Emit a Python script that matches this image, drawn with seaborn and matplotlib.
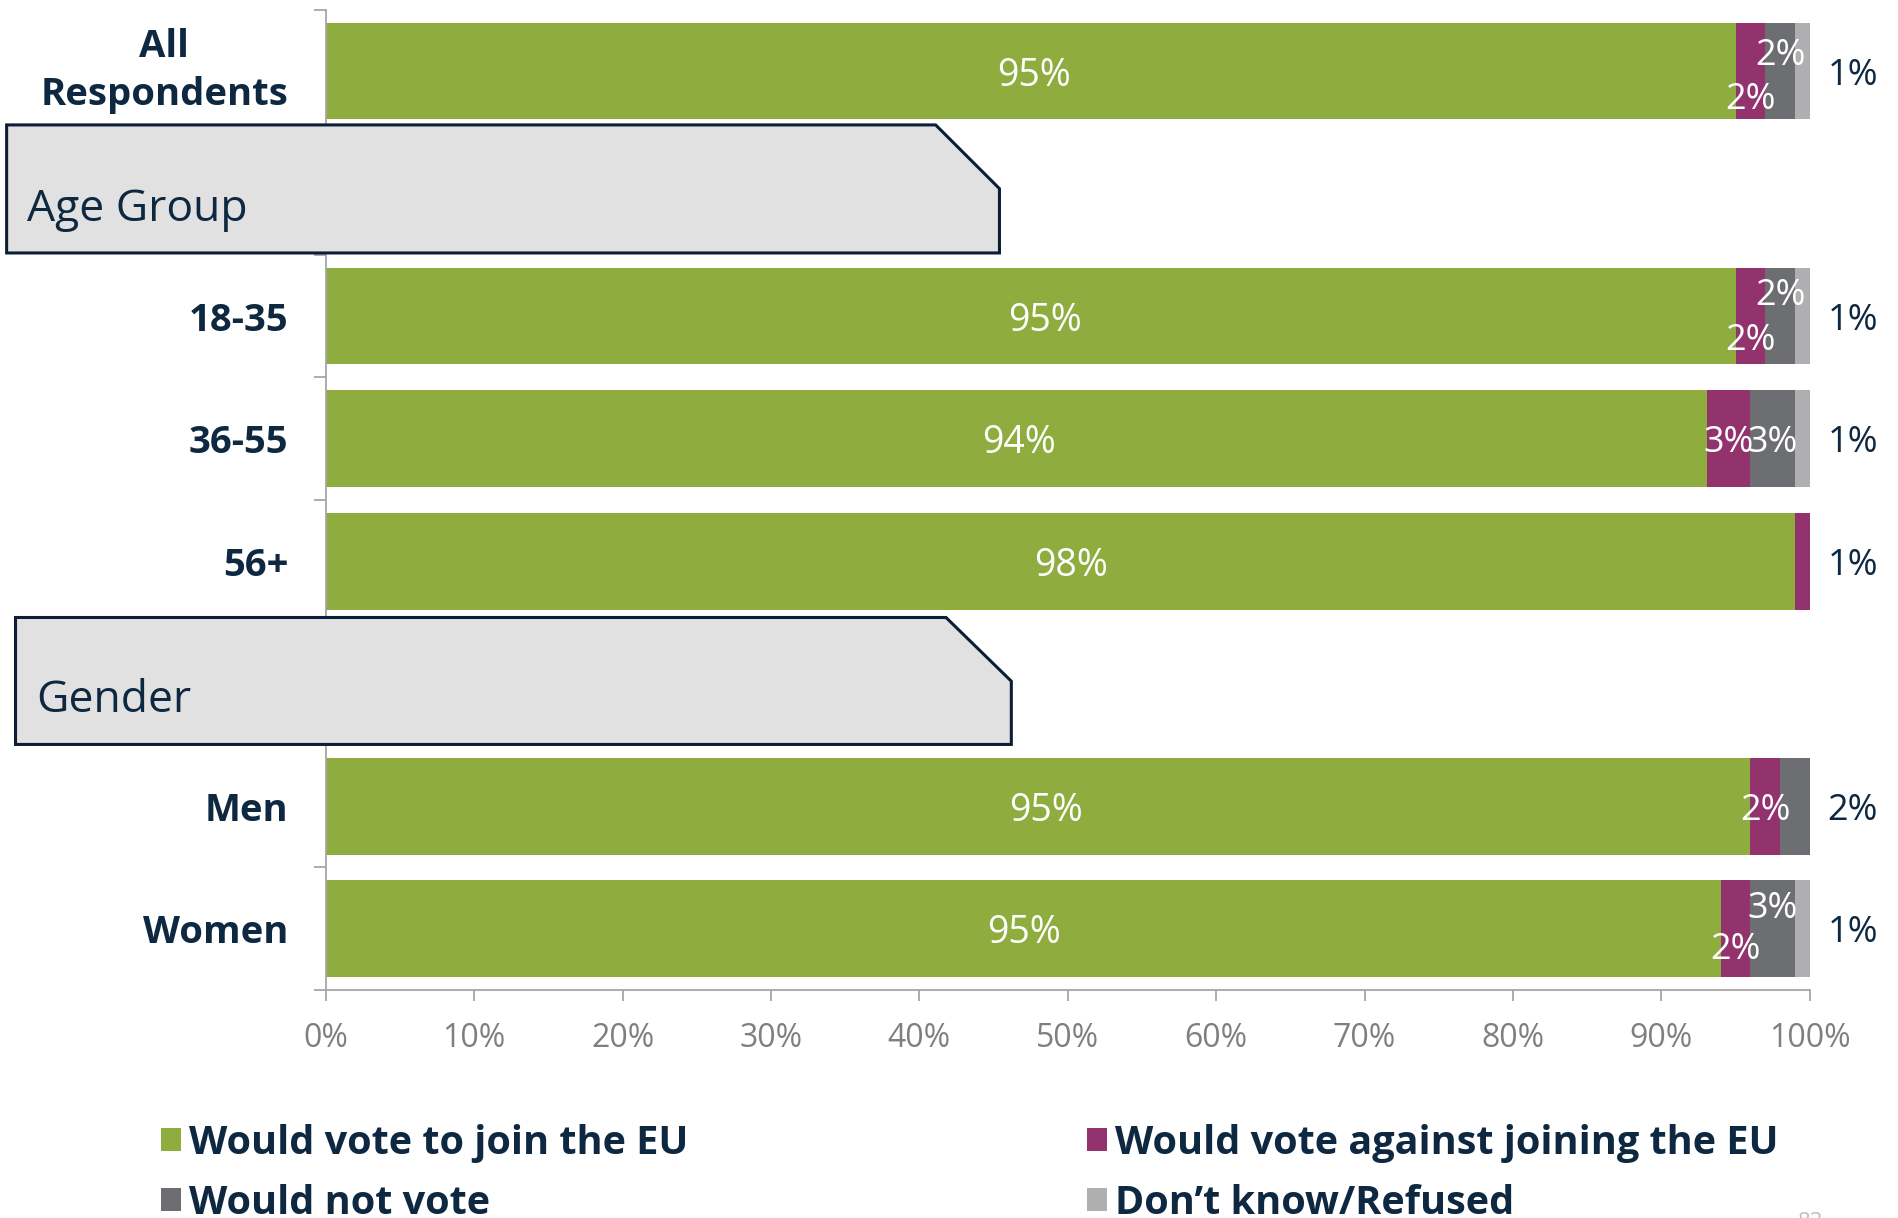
import matplotlib.pyplot as plt
import matplotlib.ticker as mticker
from matplotlib.patches import Polygon, Patch
import numpy as np
import pandas as pd
import seaborn as sns

# rows of the chart (two of them are section headers without bars)
groups = ["All\nRespondents", "18-35", "36-55", "56+", "Men", "Women"]
row_order = ["All\nRespondents", "Age Group", "18-35", "36-55", "56+", "Gender", "Men", "Women"]
headers = ["Age Group", "Gender"]

series = ["Would vote to join the EU", "Would vote against joining the EU",
          "Would not vote", "Don\u2019t know/Refused"]
join = [95, 95, 93.1, 99, 96, 94]
against = [2, 2, 2.9, 1, 2, 2]
no_vote = [2, 2, 3, 0, 2, 3]
dont_know = [1, 1, 1, 0, 0, 1]

# printed labels (as shown on the slide)
join_lbl = ["95%", "95%", "94%", "98%", "95%", "95%"]
against_lbl = ["2%", "2%", "3%", "", "2%", "2%"]
no_vote_lbl = ["2%", "2%", "3%", "", "", "3%"]
outside_lbl = ["1%", "1%", "1%", "1%", "2%", "1%"]

# small nudges of the labels as placed on the slide
join_dx = [0.2, 1.0, 0.15, 0.75, 0.55, 0.05]
against_dy = [0.2, 0.17, 0, 0, 0, 0.14]
no_vote_dy = [-0.16, -0.2, 0, 0, 0, -0.2]

colors = ["#8FAD3F", "#93336E", "#6D6E71", "#AFAFB1"]
NAVY = "#0E2841"
GRAY = "#7F7F7F"
AXIS = "#A6A6A6"

sns.set_style("white")
plt.rcParams["font.family"] = ["Open Sans", "DejaVu Sans"]

cols = ["join", "against", "no_vote", "dont_know"]
df = pd.DataFrame({"group": groups, "join": join, "against": against,
                   "no_vote": no_vote, "dont_know": dont_know})
cum = df[cols].cumsum(axis=1)
cum.insert(0, "group", df["group"])

fig = plt.figure(figsize=(18.98, 12.18), dpi=100)
ax = fig.add_axes([0.1716, 0.1872, 0.7819, 0.8048])

# stacked bars: draw the running totals from the back to the front
for col, color in reversed(list(zip(cols, colors))):
    sns.barplot(data=cum, x=col, y="group", order=row_order, color=color,
                saturation=1, width=0.79, errorbar=None, orient="h",
                linewidth=0, ax=ax, zorder=2)

ax.set_xlim(0, 100)
ax.set_ylim(7.5, -0.5)
ax.set_xlabel("")
ax.set_ylabel("")

ax.set_xticks(range(0, 101, 10))
ax.xaxis.set_major_formatter(mticker.PercentFormatter(decimals=0))
ax.tick_params(axis="x", bottom=True, length=8, width=1.3, color=AXIS,
               labelcolor=GRAY, labelsize=23, pad=15)

ax.set_yticks(range(len(row_order)),
              labels=["" if r in headers else r for r in row_order])
ax.set_yticks(np.arange(-0.5, len(row_order), 1), minor=True)
ax.tick_params(axis="y", which="major", length=0, labelcolor=NAVY,
               labelsize=27.5, pad=27)
ax.tick_params(axis="y", which="minor", left=True, length=9, width=1.3, color=AXIS)
for lab in ax.get_yticklabels():
    lab.set_fontweight("bold")
    if "\n" in lab.get_text():
        lab.set_multialignment("center")
        lab.set_linespacing(1.35)
        lab.set_verticalalignment("center")

for s in ["top", "right"]:
    ax.spines[s].set_visible(False)
for s in ["left", "bottom"]:
    ax.spines[s].set_color(AXIS)
    ax.spines[s].set_linewidth(1.3)

# value labels
for i, g in enumerate(groups):
    y = row_order.index(g)
    ax.text(join[i] / 2 + join_dx[i], y, join_lbl[i], ha="center", va="center_baseline",
            color="white", fontsize=27, zorder=5)
    ax.text(join[i] + against[i] / 2, y + against_dy[i], against_lbl[i],
            ha="center", va="center_baseline", color="white", fontsize=26, zorder=5)
    ax.text(join[i] + against[i] + no_vote[i] / 2, y + no_vote_dy[i], no_vote_lbl[i],
            ha="center", va="center_baseline", color="white", fontsize=26, zorder=5)
    ax.text(102.9, y, outside_lbl[i], ha="center", va="center_baseline",
            color=NAVY, fontsize=26, clip_on=False)

# section header boxes
boxes = {
    "Age Group": [(-21.5, 0.44), (41.1, 0.44), (45.4, 0.96), (45.4, 1.485), (-21.5, 1.485)],
    "Gender": [(-20.9, 4.46), (41.8, 4.46), (46.2, 4.98), (46.2, 5.496), (-20.9, 5.496)],
}
for name, pts in boxes.items():
    ax.add_patch(Polygon(pts, closed=True, facecolor="#E1E1E1", edgecolor="#0C1E35",
                         linewidth=2.2, clip_on=False, zorder=6))
    ax.text(pts[0][0] + 1.4, pts[3][1] - 0.4, name, ha="left", va="center_baseline",
            color=NAVY, fontsize=32, zorder=7, clip_on=False)

# legend in two columns
handles = [Patch(facecolor=c, edgecolor="none") for c in colors]
leg_kw = dict(loc="upper left", frameon=False, labelcolor=NAVY,
              handlelength=0.5, handleheight=0.5, handletextpad=0.2,
              labelspacing=0.53, borderpad=0, borderaxespad=0,
              prop={"weight": "bold", "size": 28.5})
leg1 = fig.legend([handles[0], handles[2]], [series[0], series[2]],
                  bbox_to_anchor=(0.0848, 0.0775), **leg_kw)
leg2 = fig.legend([handles[1], handles[3]], [series[1], series[3]],
                  bbox_to_anchor=(0.5727, 0.0775), **leg_kw)

fig.text(0.954, 0.005, "83", ha="center", va="top", color="#BFBFBF", fontsize=16)

fig.savefig("out.png", dpi=100)
